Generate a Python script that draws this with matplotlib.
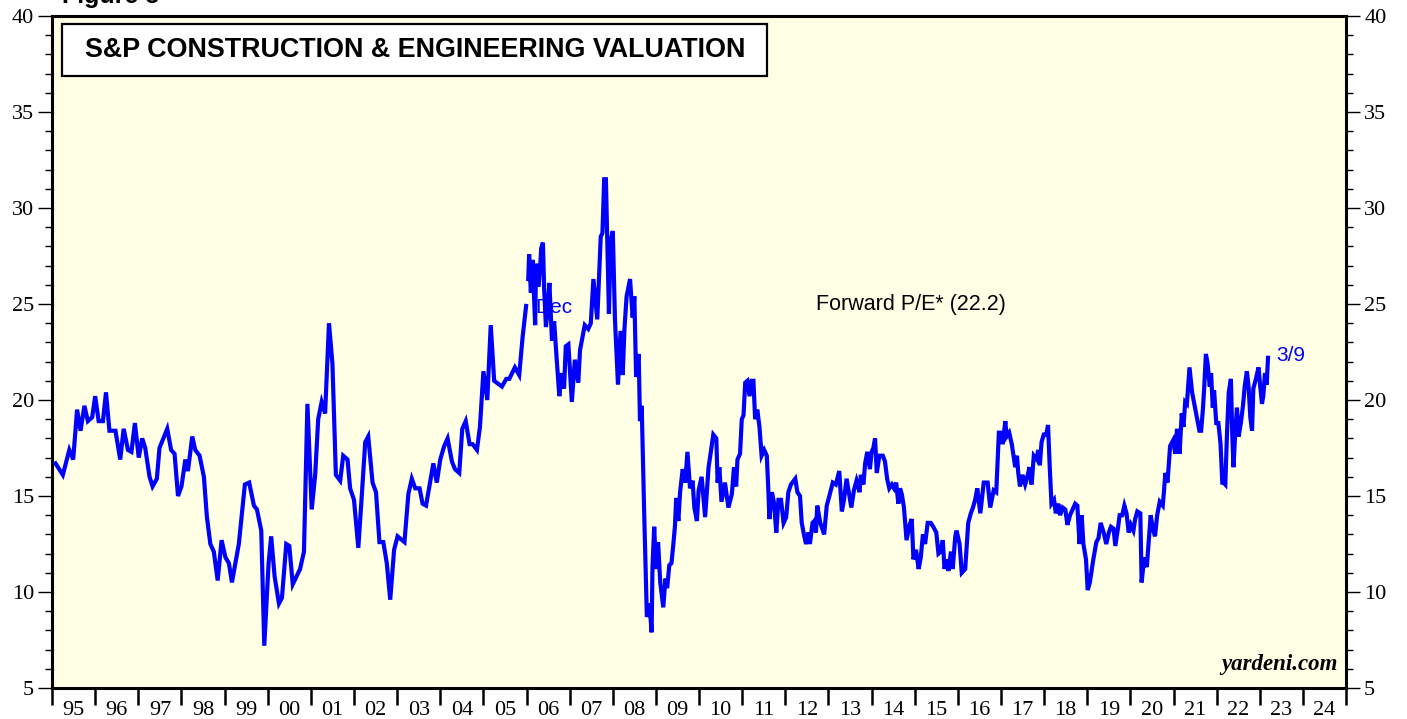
import matplotlib.pyplot as plt
from matplotlib.patches import Rectangle
from matplotlib.ticker import MultipleLocator, FixedLocator
import numpy as np

# monthly series up to Dec 2005 (decimal year, forward P/E)
old_years = [1995.08, 1995.25, 1995.40, 1995.49, 1995.58, 1995.66, 1995.75, 1995.83, 1995.93,
             1996.00, 1996.08, 1996.18, 1996.25, 1996.33, 1996.47, 1996.58, 1996.66, 1996.76, 1996.84, 1996.92,
             1997.01, 1997.09, 1997.16, 1997.26, 1997.33, 1997.43, 1997.49, 1997.67, 1997.76, 1997.84, 1997.92,
             1998.00, 1998.09, 1998.15, 1998.25, 1998.32, 1998.42, 1998.52, 1998.59, 1998.67, 1998.75, 1998.84, 1998.93,
             1999.02, 1999.10, 1999.17, 1999.33, 1999.47, 1999.57, 1999.68, 1999.75, 1999.85, 1999.92,
             2000.02, 2000.08, 2000.16, 2000.26, 2000.33, 2000.43, 2000.50, 2000.58, 2000.75, 2000.84, 2000.92,
             2001.02, 2001.10, 2001.17, 2001.25, 2001.33, 2001.42, 2001.50, 2001.58, 2001.68, 2001.75, 2001.85, 2001.91,
             2002.00, 2002.10, 2002.18, 2002.26, 2002.33, 2002.43, 2002.51, 2002.59, 2002.68, 2002.76, 2002.84, 2002.93,
             2003.01, 2003.17, 2003.26, 2003.34, 2003.42, 2003.52, 2003.59, 2003.67, 2003.84, 2003.92,
             2004.00, 2004.09, 2004.17, 2004.27, 2004.34, 2004.44, 2004.51, 2004.59, 2004.68, 2004.75, 2004.85, 2004.92,
             2005.00, 2005.09, 2005.17, 2005.25, 2005.43, 2005.53, 2005.60, 2005.73, 2005.83, 2005.91, 2005.99]
old_pe = [16.7, 16.1, 17.4, 16.9, 19.5, 18.4, 19.7, 18.9, 19.1,
          20.2, 18.9, 18.9, 20.4, 18.4, 18.4, 16.9, 18.5, 17.4, 17.3, 18.8,
          17.0, 18.0, 17.5, 16.0, 15.5, 15.9, 17.5, 18.5, 17.4, 17.2, 15.0,
          15.5, 16.9, 16.3, 18.1, 17.4, 17.1, 16.0, 13.9, 12.5, 12.1, 10.6, 12.7,
          11.8, 11.5, 10.5, 12.5, 15.6, 15.7, 14.5, 14.3, 13.2, 7.2,
          11.5, 12.9, 10.8, 9.4, 9.7, 12.5, 12.4, 10.4, 11.2, 12.1, 19.8,
          14.3, 16.1, 19.0, 19.9, 19.3, 24.0, 21.9, 16.1, 15.8, 17.1, 16.9, 15.4,
          14.8, 12.3, 15.0, 17.8, 18.1, 15.7, 15.2, 12.6, 12.6, 11.5, 9.6, 12.2,
          12.9, 12.6, 15.1, 15.9, 15.4, 15.4, 14.6, 14.5, 16.7, 15.7,
          16.9, 17.6, 18.0, 16.8, 16.4, 16.2, 18.5, 18.9, 17.7, 17.7, 17.4, 18.6,
          21.5, 20.0, 23.9, 21.0, 20.7, 21.1, 21.1, 21.7, 21.3, 23.3, 24.9]

# weekly series from Dec 2005 to 3/9/2023
new_years = [2006.04, 2006.06, 2006.10, 2006.14, 2006.20, 2006.22, 2006.28, 2006.32, 2006.34, 2006.38,
             2006.41, 2006.45, 2006.48, 2006.53, 2006.59, 2006.64, 2006.70, 2006.76, 2006.81, 2006.87,
             2006.91, 2006.97, 2007.05, 2007.12, 2007.20, 2007.24, 2007.30, 2007.35, 2007.43, 2007.49,
             2007.55, 2007.64, 2007.72, 2007.76, 2007.80, 2007.84, 2007.91, 2007.95, 2008.00, 2008.05,
             2008.12, 2008.18, 2008.23, 2008.27, 2008.32, 2008.40, 2008.46, 2008.50, 2008.54, 2008.60,
             2008.63, 2008.67, 2008.73, 2008.79, 2008.85, 2008.90, 2008.92, 2008.96, 2009.00, 2009.05,
             2009.10, 2009.17, 2009.22, 2009.26, 2009.31, 2009.36, 2009.40, 2009.44, 2009.47, 2009.52,
             2009.56, 2009.62, 2009.68, 2009.73, 2009.79, 2009.85, 2009.89, 2009.95, 2009.99, 2010.06,
             2010.14, 2010.22, 2010.26, 2010.33, 2010.40, 2010.43, 2010.47, 2010.52, 2010.60, 2010.68,
             2010.76, 2010.81, 2010.86, 2010.89, 2010.95, 2010.99, 2011.03, 2011.07, 2011.12, 2011.17,
             2011.22, 2011.26, 2011.30, 2011.35, 2011.40, 2011.45, 2011.51, 2011.57, 2011.61, 2011.63,
             2011.69, 2011.74, 2011.79, 2011.84, 2011.90, 2011.96, 2012.02, 2012.07, 2012.13, 2012.23,
             2012.28, 2012.34, 2012.38, 2012.44, 2012.48, 2012.54, 2012.57, 2012.63, 2012.67, 2012.71,
             2012.74, 2012.81, 2012.87, 2012.90, 2012.96, 2013.02, 2013.10, 2013.17, 2013.25, 2013.31,
             2013.36, 2013.42, 2013.48, 2013.53, 2013.59, 2013.65, 2013.72, 2013.75, 2013.81, 2013.85,
             2013.90, 2013.96, 2014.00, 2014.04, 2014.08, 2014.12, 2014.18, 2014.26, 2014.31, 2014.36,
             2014.41, 2014.47, 2014.52, 2014.57, 2014.62, 2014.66, 2014.70, 2014.75, 2014.81, 2014.88,
             2014.93, 2014.97, 2015.03, 2015.09, 2015.14, 2015.19, 2015.24, 2015.30, 2015.37, 2015.43,
             2015.50, 2015.55, 2015.60, 2015.65, 2015.69, 2015.74, 2015.78, 2015.84, 2015.88, 2015.94,
             2015.97, 2016.04, 2016.09, 2016.17, 2016.24, 2016.30, 2016.35, 2016.40, 2016.45, 2016.52,
             2016.60, 2016.69, 2016.75, 2016.83, 2016.89, 2016.95, 2016.99, 2017.04, 2017.10, 2017.13,
             2017.19, 2017.25, 2017.29, 2017.33, 2017.37, 2017.40, 2017.44, 2017.50, 2017.56, 2017.60,
             2017.66, 2017.71, 2017.76, 2017.83, 2017.86, 2017.90, 2017.94, 2017.99, 2018.05, 2018.09,
             2018.13, 2018.17, 2018.23, 2018.27, 2018.33, 2018.37, 2018.43, 2018.49, 2018.54, 2018.60,
             2018.66, 2018.72, 2018.77, 2018.82, 2018.87, 2018.91, 2018.97, 2019.01, 2019.06, 2019.14,
             2019.21, 2019.26, 2019.31, 2019.38, 2019.44, 2019.50, 2019.55, 2019.61, 2019.65, 2019.71,
             2019.75, 2019.81, 2019.86, 2019.91, 2019.96, 2020.01, 2020.07, 2020.11, 2020.16, 2020.23,
             2020.26, 2020.32, 2020.38, 2020.44, 2020.47, 2020.52, 2020.57, 2020.62, 2020.68, 2020.75,
             2020.78, 2020.81, 2020.86, 2020.92, 2020.99, 2021.04, 2021.08, 2021.14, 2021.19, 2021.23,
             2021.27, 2021.31, 2021.37, 2021.43, 2021.48, 2021.54, 2021.60, 2021.64, 2021.68, 2021.71,
             2021.75, 2021.79, 2021.84, 2021.87, 2021.91, 2021.94, 2021.99, 2022.04, 2022.09, 2022.13,
             2022.16, 2022.20, 2022.24, 2022.28, 2022.33, 2022.36, 2022.39, 2022.43, 2022.47, 2022.51,
             2022.56, 2022.61, 2022.65, 2022.70, 2022.74, 2022.78, 2022.82, 2022.85, 2022.91, 2022.97,
             2023.01, 2023.05, 2023.08, 2023.12, 2023.16, 2023.19]
new_pe = [26.3, 27.6, 25.6, 27.3, 23.9, 27.1, 25.9, 27.1, 27.9, 28.2,
          25.7, 23.8, 24.5, 26.1, 23.1, 24.1, 22.1, 20.2, 21.4, 20.6,
          22.8, 22.9, 19.9, 22.1, 20.9, 22.6, 23.3, 23.9, 23.7, 24.0,
          26.3, 24.2, 28.5, 28.7, 31.5, 31.5, 24.5, 28.3, 28.8, 24.2,
          20.8, 23.6, 21.3, 23.7, 25.4, 26.3, 24.3, 25.4, 21.2, 22.4,
          18.9, 19.7, 13.9, 8.7, 9.4, 7.9, 11.3, 13.4, 11.2, 12.6,
          10.5, 9.2, 10.7, 10.2, 11.4, 11.5, 12.4, 13.4, 14.9, 13.7,
          15.2, 16.4, 15.7, 17.3, 15.4, 15.8, 14.4, 13.7, 15.3, 16.0,
          13.9, 16.5, 17.1, 18.2, 18.0, 15.7, 16.5, 14.7, 15.7, 14.4,
          15.1, 16.5, 15.5, 16.9, 17.2, 19.0, 19.2, 20.9, 21.0, 20.2,
          21.0, 21.0, 19.0, 19.5, 18.6, 17.1, 17.4, 17.1, 15.1, 13.8,
          15.2, 14.6, 13.1, 14.8, 14.8, 13.6, 13.9, 15.2, 15.6, 15.9,
          15.2, 15.0, 13.6, 12.9, 12.5, 13.1, 12.5, 13.6, 13.7, 13.1,
          14.5, 13.6, 13.2, 13.0, 14.5, 15.0, 15.7, 15.6, 16.3, 14.2,
          14.8, 15.9, 15.1, 14.4, 15.3, 15.8, 15.2, 16.1, 15.6, 16.7,
          17.3, 16.4, 17.3, 17.5, 18.0, 16.2, 17.1, 17.1, 16.8, 15.9,
          15.4, 15.6, 15.4, 15.7, 14.6, 15.4, 15.1, 14.4, 12.7, 13.5,
          13.8, 11.7, 12.2, 11.2, 11.8, 13.0, 12.5, 13.6, 13.6, 13.4,
          13.1, 12.0, 12.1, 12.7, 11.2, 11.7, 11.1, 12.1, 11.2, 12.9,
          13.2, 12.5, 11.0, 11.2, 13.6, 14.1, 14.4, 14.8, 15.4, 14.1,
          15.7, 15.7, 14.4, 15.3, 15.2, 18.3, 18.3, 17.7, 18.9, 18.1,
          18.3, 17.7, 17.1, 16.5, 17.1, 16.2, 15.5, 16.1, 15.6, 15.9,
          16.5, 15.6, 17.1, 16.9, 17.4, 16.6, 17.8, 18.2, 18.2, 18.7,
          16.5, 14.6, 14.8, 14.1, 14.6, 14.0, 14.4, 14.3, 13.5, 14.0,
          14.3, 14.6, 14.5, 12.5, 14.0, 12.5, 11.7, 10.1, 10.5, 11.7,
          12.6, 12.8, 13.6, 13.1, 12.5, 13.1, 13.4, 13.3, 12.4, 13.3,
          14.0, 14.0, 14.5, 14.1, 13.1, 13.5, 13.2, 13.8, 14.2, 14.1,
          10.5, 11.8, 11.3, 13.1, 14.0, 13.3, 12.9, 14.0, 14.7, 14.5,
          15.3, 16.2, 15.7, 17.6, 17.9, 17.2, 18.5, 17.2, 19.3, 18.6,
          19.9, 19.8, 21.7, 20.4, 19.8, 19.1, 18.4, 18.4, 19.5, 20.6,
          22.4, 21.9, 20.7, 21.4, 19.6, 20.5, 18.8, 18.8, 17.7, 15.7,
          15.7, 15.6, 18.3, 20.4, 21.1, 18.3, 16.5, 18.3, 19.6, 18.1,
          18.8, 19.7, 20.7, 21.5, 20.7, 19.1, 18.4, 20.6, 21.1, 21.7,
          20.7, 19.8, 20.2, 21.4, 20.8, 22.2]

year_ticks = list(range(1995, 2026))
year_labels = ['%02d' % (y % 100) for y in range(1995, 2025)]
title = 'S&P CONSTRUCTION & ENGINEERING VALUATION'

bg = '#FFFFE6'
blue = '#0000FF'

fig = plt.figure(figsize=(14.07, 7.19), dpi=100)
ax = fig.add_axes([0.0370, 0.0431, 0.9197, 0.9346])
ax.set_facecolor(bg)

ax.plot(old_years, old_pe, color=blue, lw=3.0, zorder=3, solid_joinstyle='miter')
ax.plot(new_years, new_pe, color=blue, lw=3.0, zorder=3, solid_joinstyle='miter')

ax.set_xlim(1995, 2025)
ax.set_ylim(5, 40)

# x axis: year boundaries as ticks, labels centered in each year
ax.xaxis.set_major_locator(FixedLocator(year_ticks))
ax.xaxis.set_minor_locator(FixedLocator([y + 0.5 for y in range(1995, 2025)]))
ax.xaxis.set_major_formatter(plt.NullFormatter())
ax.set_xticklabels(year_labels, minor=True)
ax.tick_params(axis='x', which='major', direction='out', length=12, width=1.8, color='black')
ax.tick_params(axis='x', which='minor', length=0, pad=9, labelsize=16)

# y axis on both sides
ax.yaxis.set_major_locator(MultipleLocator(5))
ax.yaxis.set_minor_locator(MultipleLocator(1))
ax.tick_params(axis='y', which='major', direction='out', length=10, width=1.0,
               left=True, right=True, labelleft=True, labelright=True, labelsize=16, pad=3)
ax.tick_params(axis='y', which='minor', direction='out', length=5, width=1.0, left=True, right=True)

for lab in ax.get_xticklabels(minor=True) + ax.get_yticklabels():
    lab.set_family('Liberation Serif')

for sp in ax.spines.values():
    sp.set_linewidth(2.2)
    sp.set_color('black')

# title box
ax.add_patch(Rectangle((0.0077, 0.9107), 0.5448, 0.0774, transform=ax.transAxes,
                       facecolor='white', edgecolor='black', lw=1.6, zorder=4))
ax.text(0.0255, 0.949, title, transform=ax.transAxes, fontsize=19.4, fontweight='bold',
        family='Liberation Sans', va='center', ha='left', zorder=5)

ax.text(2012.71, 24.95, 'Forward P/E* (22.2)', fontsize=15.5, family='Liberation Sans',
        va='center', ha='left', color='black')
ax.text(2006.2, 24.84, 'Dec', fontsize=15, family='Liberation Sans',
        va='center', ha='left', color=blue, zorder=2)
ax.text(2023.38, 22.3, '3/9', fontsize=15, family='Liberation Sans',
        va='center', ha='left', color=blue)
ax.text(0.9935, 0.02, 'yardeni.com', transform=ax.transAxes, fontsize=16.5, fontweight='bold',
        style='italic', family='Liberation Serif', ha='right', va='bottom')

# figure label cut off at the top edge, as in the source
fig.text(62 / 1407, 1 + 4 / 719, 'Figure 5', fontsize=18, fontweight='bold',
         family='Liberation Sans', ha='left', va='center')

fig.savefig('out.png', dpi=100, facecolor='white')
